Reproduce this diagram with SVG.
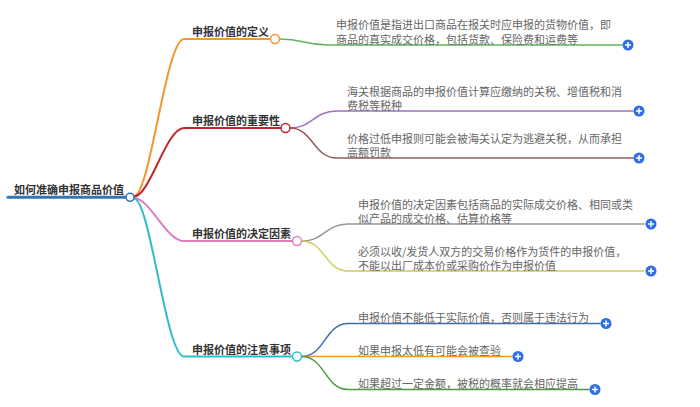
<svg xmlns="http://www.w3.org/2000/svg" width="700" height="407" viewBox="0 0 700 407">
<style>
  .root { font-family: "Noto Sans CJK SC", "Noto Sans", sans-serif; font-size: 11px; font-weight: bold; fill: #333; }
  .br { font-family: "Noto Sans CJK SC", "Noto Sans", sans-serif; font-size: 11px; font-weight: bold; fill: #333; }
  .leaf { font-family: "Noto Sans CJK SC", "Noto Sans", sans-serif; font-size: 11px; fill: #666; }
  .ln { fill: none; stroke-linecap: round; }
  .dot { fill: #fff; stroke-width: 1.5; }
  .plus circle { fill: #2e6ee6; }
  .plus path { stroke: #fff; stroke-width: 1.5; fill: none; }
</style>
<defs>
  <g id="plusIcon" class="plus"><circle cx="0" cy="0" r="5.5"/><path d="M-3 0H3M0 -3V3"/></g>
</defs>
<rect width="700" height="407" fill="#fff"/>
<g id="connectors">
  <path class="ln" d="M8 197.3H126" stroke="#3375b5" stroke-width="3"/>
  <path class="ln" d="M134 196 C150 196 166 39 184 39 H271" stroke="#f7952f" stroke-width="2"/>
  <path class="ln" d="M134 196.5 C150 196.5 166 128 184 128 H281" stroke="#c4262e" stroke-width="2"/>
  <path class="ln" d="M134 198 C150 198 166 241 184 241 H293" stroke="#dc7fc0" stroke-width="2"/>
  <path class="ln" d="M134 198.5 C150 198.5 166 356.5 184 356.5 H293" stroke="#2fbccc" stroke-width="2"/>
  <path class="ln" d="M279.5 39 C304 39 304 45 328 45 H622" stroke="#5fb55a" stroke-width="1.5"/>
  <path class="ln" d="M290 128 C313 128 313 111 337 111 H633" stroke="#9c73b8" stroke-width="1.5"/>
  <path class="ln" d="M290 128 C313 128 313 158 337 158 H633" stroke="#8f5b5b" stroke-width="1.5"/>
  <path class="ln" d="M301.5 241 C325 241 325 224 348 224 H644" stroke="#959595" stroke-width="1.5"/>
  <path class="ln" d="M301.5 241 C325 241 325 271 348 271 H644" stroke="#cccc5a" stroke-width="1.5"/>
  <path class="ln" d="M301.5 356.5 C325 356.5 325 323.5 348 323.5 H600" stroke="#3d6eab" stroke-width="1.5"/>
  <path class="ln" d="M301.5 356.5 H512" stroke="#f7952f" stroke-width="1.5"/>
  <path class="ln" d="M301.5 356.5 C325 356.5 325 389.5 348 389.5 H589" stroke="#4f9a3f" stroke-width="1.5"/>
</g>
<g id="root">
  <text class="root" x="14" y="194">如何准确申报商品价值</text>
  <circle class="dot" cx="130" cy="197.3" r="4" stroke="#3375b5"/>
</g>
<g id="b1">
  <text class="br" x="192" y="36">申报价值的定义</text>
  <circle class="dot" cx="275" cy="39" r="4.5" stroke="#f7952f"/>
</g>
<g id="b2">
  <text class="br" x="192" y="125">申报价值的重要性</text>
  <circle class="dot" cx="285.5" cy="128" r="4.5" stroke="#c4262e"/>
</g>
<g id="b3">
  <text class="br" x="192" y="238">申报价值的决定因素</text>
  <circle class="dot" cx="297" cy="241" r="4.5" stroke="#dc7fc0"/>
</g>
<g id="b4">
  <text class="br" x="192" y="353.5">申报价值的注意事项</text>
  <circle class="dot" cx="297" cy="356.5" r="4.5" stroke="#2fbccc"/>
</g>
<g id="c11">
  <text class="leaf" x="336" y="29">申报价值是指进出口商品在报关时应申报的货物价值，即</text>
  <text class="leaf" x="336" y="43.5">商品的真实成交价格，包括货款、保险费和运费等</text>
  <use href="#plusIcon" x="628" y="45"/>
</g>
<g id="c21">
  <text class="leaf" x="347" y="95.5">海关根据商品的申报价值计算应缴纳的关税、增值税和消</text>
  <text class="leaf" x="347" y="110">费税等税种</text>
  <use href="#plusIcon" x="639" y="111"/>
</g>
<g id="c22">
  <text class="leaf" x="347" y="142.5">价格过低申报则可能会被海关认定为逃避关税，从而承担</text>
  <text class="leaf" x="347" y="157">高额罚款</text>
  <use href="#plusIcon" x="639" y="158"/>
</g>
<g id="c31">
  <text class="leaf" x="358" y="208.5">申报价值的决定因素包括商品的实际成交价格、相同或类</text>
  <text class="leaf" x="358" y="223">似产品的成交价格、估算价格等</text>
  <use href="#plusIcon" x="651" y="224"/>
</g>
<g id="c32">
  <text class="leaf" x="358" y="255.5">必须以收/发货人双方的交易价格作为货件的申报价值，</text>
  <text class="leaf" x="358" y="270">不能以出厂成本价或采购价作为申报价值</text>
  <use href="#plusIcon" x="651" y="271"/>
</g>
<g id="c41">
  <text class="leaf" x="358" y="322">申报价值不能低于实际价值，否则属于违法行为</text>
  <use href="#plusIcon" x="606" y="323.5"/>
</g>
<g id="c42">
  <text class="leaf" x="358" y="355">如果申报太低有可能会被查验</text>
  <use href="#plusIcon" x="518" y="356.5"/>
</g>
<g id="c43">
  <text class="leaf" x="358" y="388">如果超过一定金额，被税的概率就会相应提高</text>
  <use href="#plusIcon" x="595" y="389.5"/>
</g>
</svg>
